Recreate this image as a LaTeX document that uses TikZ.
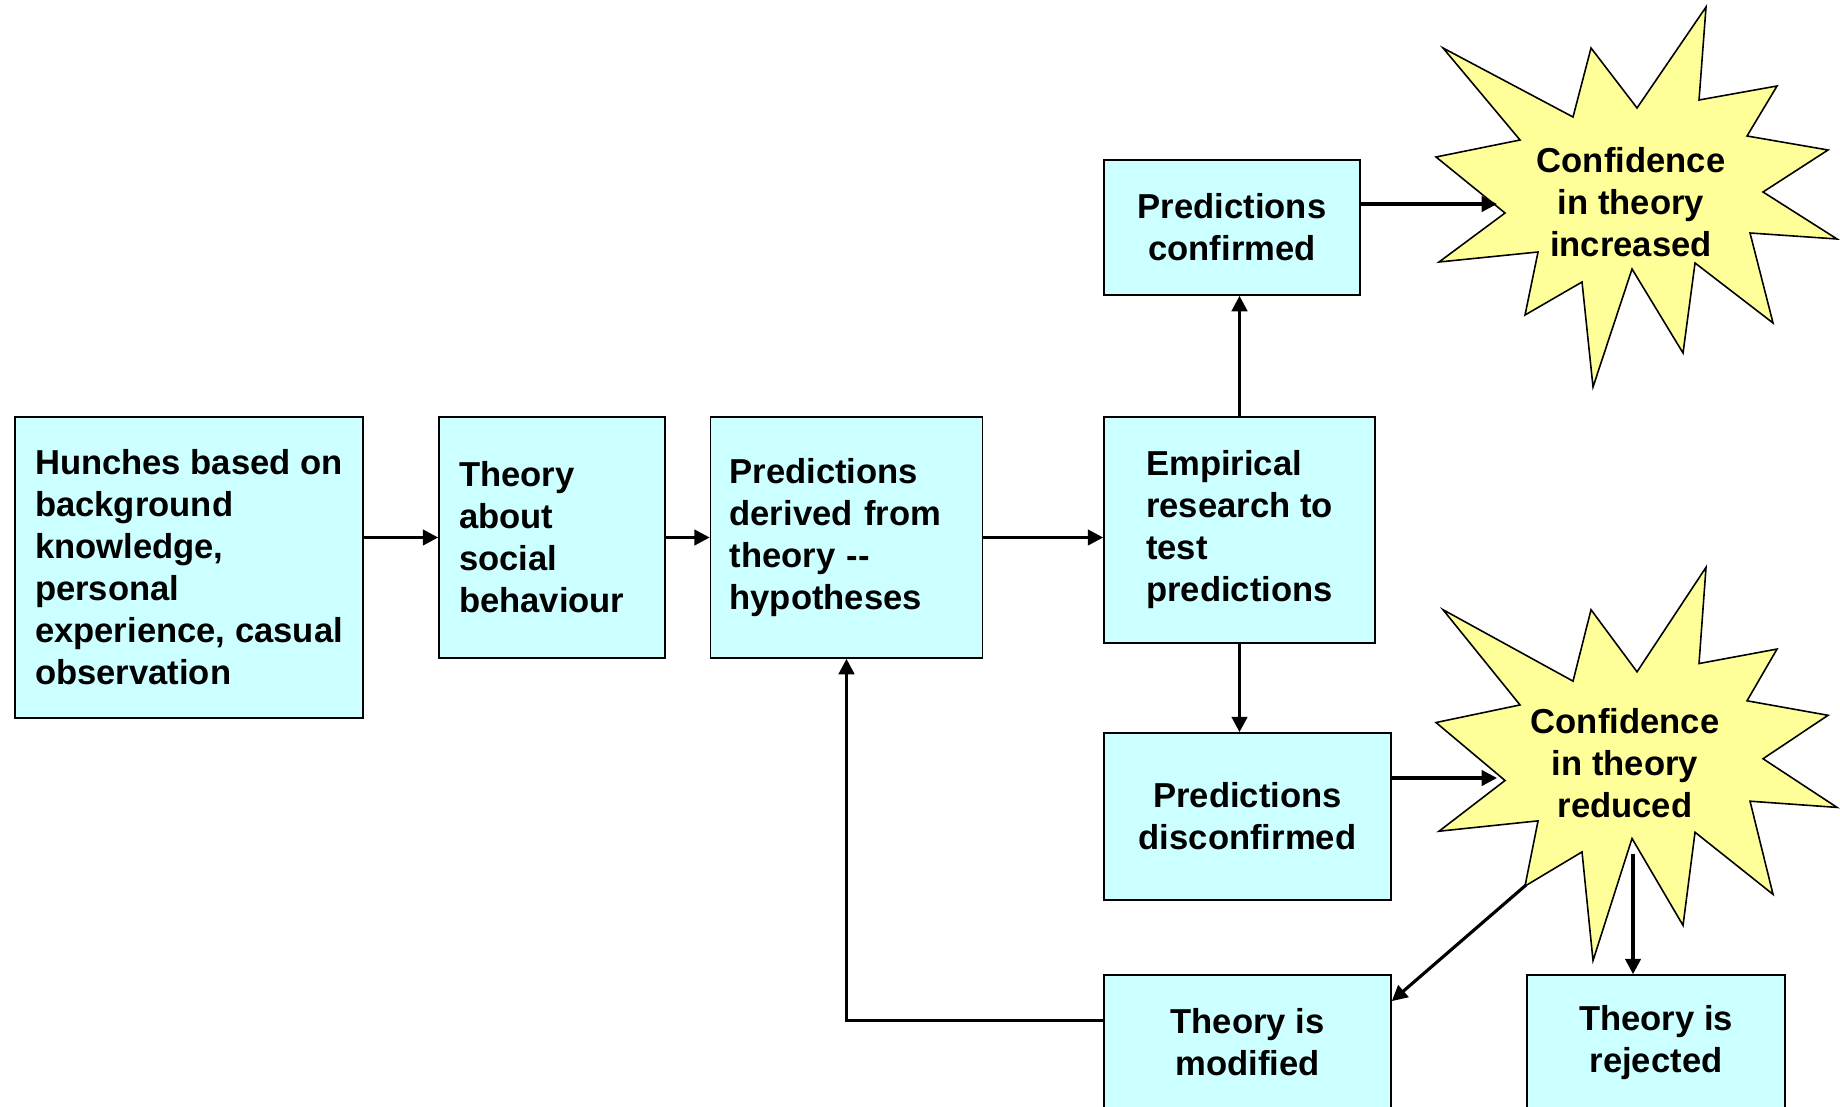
\documentclass[tikz,border=0pt]{standalone}
\usepackage{fontspec}
\setmainfont{Liberation Sans}
\usepackage{xcolor}
\usetikzlibrary{arrows.meta}

\definecolor{boxcyan}{RGB}{204,255,255}
\definecolor{burstyellow}{RGB}{255,255,153}

\begin{document}
\begin{tikzpicture}[
    box/.style={draw, line width=0.45pt, fill=boxcyan, inner sep=0pt,
        font=\fontsize{9.85}{11.95}\selectfont\bfseries},
    burst/.style={draw, line width=0.45pt, fill=burstyellow},
    bursttext/.style={align=center, inner sep=0pt,
        font=\fontsize{9.85}{11.95}\selectfont\bfseries},
    arr/.style={-{Triangle[length=4.4pt,width=4.4pt]}, line width=0.9pt}
]
    \useasboundingbox (0,0) rectangle (18.4,-11.06);

    % Main row
    \node[box, align=left, minimum width=3.48cm, minimum height=3.01cm] (hunch) at (1.89,-5.675)
        {Hunches based on\\background\\knowledge,\\personal\\experience, casual\\observation};
    \node[box, align=left, text width=1.86cm, inner xsep=0.2cm, minimum height=2.41cm] (theory) at (5.52,-5.375)
        {Theory\\about\\social\\behaviour};
    \node[box, align=left, text width=2.34cm, inner xsep=0.19cm, minimum height=2.41cm] (derived) at (8.465,-5.375)
        {Predictions\\derived from\\theory -{}-\\hypotheses};
    \node[box, align=left, minimum width=2.71cm, minimum height=2.26cm] (empirical) at (12.395,-5.30)
        {Empirical\\research to\\test\\predictions};

    % Outcomes
    \node[box, align=center, minimum width=2.56cm, minimum height=1.35cm] (confirmed) at (12.32,-2.275)
        {Predictions\\confirmed};
    \node[box, align=center, minimum width=2.87cm, minimum height=1.67cm] (disconfirmed) at (12.475,-8.165)
        {Predictions\\disconfirmed};
    \node[box, align=center, minimum width=2.87cm, minimum height=1.35cm] (modified) at (12.475,-10.425)
        {Theory is\\modified};
    \node[box, align=center, minimum width=2.58cm, minimum height=1.35cm] (rejected) at (16.56,-10.425)
        {Theory is\\rejected};

    % Starbursts
    \foreach \cx/\cy/\ys in {16.31/-1.99/1, 16.31/-7.66/1.035}
        \draw[burst, shift={(\cx,\cy)}, yscale=\ys]
            (0.75,1.92) -- (0.68,0.99) -- (1.46,1.13) -- (1.16,0.63) -- (1.97,0.49) -- (1.32,0.07)
            -- (2.06,-0.40) -- (1.19,-0.34) -- (1.42,-1.24) -- (0.64,-0.64) -- (0.52,-1.54) -- (0.01,-0.70)
            -- (-0.38,-1.88) -- (-0.49,-0.83) -- (-1.06,-1.16) -- (-0.93,-0.53) -- (-1.92,-0.63) -- (-1.26,-0.14)
            -- (-1.95,0.42) -- (-1.11,0.59) -- (-1.88,1.51) -- (-0.58,0.82) -- (-0.40,1.51) -- (0.06,0.91) -- cycle;
    \node[bursttext] (upA) at (16.31,-2.02) {Confidence\\in theory\\increased};
    \node[bursttext] (downB) at (16.25,-7.63) {Confidence\\in theory\\reduced};

    % Arrow ends on the starbursts
    \coordinate (inA) at (14.97,-2.04);
    \coordinate (inB) at (14.97,-7.78);
    \coordinate (outB) at (15.26,-8.85);
    \coordinate (outC) at (16.33,-8.54);

    % Arrows
    \draw[arr] (hunch.east |- theory.west) -- (theory.west);
    \draw[arr] (theory) -- (derived);
    \draw[arr] (derived.east) -- (derived.east -| empirical.west);
    \draw[arr] (empirical.north) -- (empirical.north |- confirmed.south);
    \draw[arr] (empirical.south) -- (empirical.south |- disconfirmed.north);
    \draw[arr] (confirmed.east |- inA) -- (inA);
    \draw[arr] (disconfirmed.east |- inB) -- (inB);
    \draw[arr] (outB) -- (modified.16);
    \draw[arr] (outC) -- (outC |- rejected.north);

    % Feedback loop
    \draw[arr] ([yshift=0.22cm]modified.west) -| (derived.south);
\end{tikzpicture}
\end{document}
